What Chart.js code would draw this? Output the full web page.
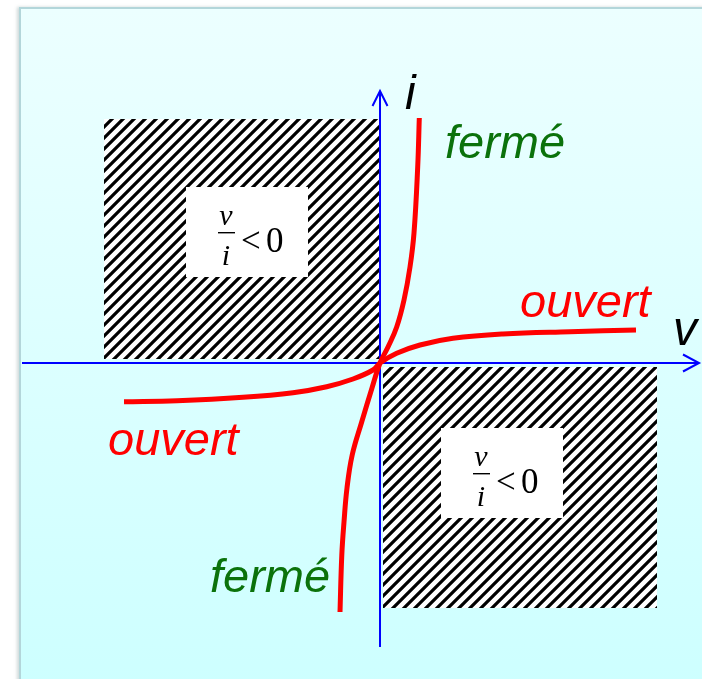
<!DOCTYPE html>
<html>
<head>
<meta charset="utf-8">
<script src="https://cdn.jsdelivr.net/npm/chart.js"></script>
<style>
    html, body { margin: 0; padding: 0; background: #fff; width: 702px; height: 679px; overflow: hidden; }
    #panel {
        position: absolute; left: 19px; top: 7px; width: 700px; height: 700px;
        background: linear-gradient(#ecffff, #ccffff);
        border-left: 2px solid #b3d6da; border-top: 2px solid #b3d6da;
        box-shadow: -2px 0 3px rgba(120, 150, 150, 0.35);
    }
    #chart { position: absolute; left: 0; top: 0; }
</style>
</head>
<body>
<div id="panel"></div>
<canvas id="chart" width="702" height="679"></canvas>
<script>
    // ─── DATA (1 unit = 10 px, origin at the axes crossing) ──
    // "fermé" branch: steep, read bottom to top
    const fermeV = [-4.0, -3.82, -3.6, -3.3, -2.78, -1.83, -0.8, 0, 0.8, 1.67, 2.4, 3.0, 3.4, 3.77, 3.93];
    const fermeI = [-24.9, -19.2, -15.9, -12.5, -9.2, -5.9, -2.5, 0, 1.6, 3.6, 6.3, 9.6, 13.0, 19.6, 24.5];
    // "ouvert" branch: flat, read left to right
    const ouvertV = [-25.6, -20.3, -13.7, -8.7, -5.33, -2.7, -0.7, 0, 1.67, 4.0, 7.3, 12.3, 19.0, 25.6];
    const ouvertI = [-3.87, -3.77, -3.43, -2.97, -2.37, -1.6, -0.7, 0, 0.97, 1.8, 2.47, 2.9, 3.13, 3.3];

    // hatched quadrants where v/i < 0 : [left, right, top, bottom]
    const zoneQ2 = [-27.6, -0.1, 24.4, 0.4];
    const zoneQ4 = [0.3, 27.7, -0.4, -24.5];
    // white boxes holding the formula
    const boxQ2 = [-19.4, -7.2, 17.6, 8.6];
    const boxQ4 = [6.1, 18.3, -6.5, -15.5];

    // axes
    const axisV = [-35.8, 31.9];
    const axisI = [-28.4, 27.2];

    // texts
    const curveLabels = ['fermé', 'ouvert', 'ouvert', 'fermé'];
    const curveLabelV = [6.5, 14.0, -27.2, -17.0];
    const curveLabelI = [20.5, 4.6, -9.2, -22.9];
    const curveLabelColors = ['#0b720b', '#ff0000', '#ff0000', '#0b720b'];
    const axisLabels = ['i', 'v'];
    const axisLabelV = [2.5, 29.3];
    const axisLabelI = [25.4, 1.8];

    // ─── HELPER: hatch pattern ──────────────────────────────
    function makeHatch() {
        const n = 11;
        const tile = document.createElement('canvas');
        tile.width = n;
        tile.height = n;
        const t = tile.getContext('2d');
        t.fillStyle = '#fff';
        t.fillRect(0, 0, n, n);
        t.strokeStyle = '#000';
        t.lineWidth = 3.2;
        t.beginPath();
        t.moveTo(-n / 2, n / 2); t.lineTo(n / 2, -n / 2);
        t.moveTo(0, n); t.lineTo(n, 0);
        t.moveTo(n / 2, n * 1.5); t.lineTo(n * 1.5, n / 2);
        t.stroke();
        return document.getElementById('chart').getContext('2d').createPattern(tile, 'repeat');
    }

    function rectSet(r, bg) {
        return {
            data: [{ x: r[0], y: r[2] }, { x: r[1], y: r[2] }],
            fill: { value: r[3] },
            backgroundColor: bg,
            borderColor: 'rgba(0,0,0,0)',
            borderWidth: 0,
            pointRadius: 0
        };
    }

    function lineSet(pts, color, width, smooth) {
        return {
            data: pts,
            borderColor: color,
            borderWidth: width,
            pointRadius: 0,
            fill: false,
            tension: smooth ? 0.4 : 0
        };
    }

    const zip = (xs, ys) => xs.map((x, k) => ({ x, y: ys[k] }));

    // ─── PLUGIN: texts and formulas ─────────────────────────
    const textPlugin = {
        id: 'texts',
        afterDatasetsDraw(chart) {
            const ctx = chart.ctx;
            const sx = chart.scales.x, sy = chart.scales.y;
            ctx.save();
            ctx.textBaseline = 'alphabetic';
            ctx.textAlign = 'left';

            ctx.font = 'italic 47px "Liberation Sans", Arial, sans-serif';
            curveLabels.forEach((txt, k) => {
                ctx.fillStyle = curveLabelColors[k];
                ctx.fillText(txt, sx.getPixelForValue(curveLabelV[k]), sy.getPixelForValue(curveLabelI[k]));
            });

            ctx.font = 'italic 48px "Liberation Sans", Arial, sans-serif';
            ctx.fillStyle = '#000';
            axisLabels.forEach((txt, k) => {
                ctx.fillText(txt, sx.getPixelForValue(axisLabelV[k]), sy.getPixelForValue(axisLabelI[k]));
            });

            [boxQ2, boxQ4].forEach(b => {
                const cx = (sx.getPixelForValue(b[0]) + sx.getPixelForValue(b[1])) / 2;
                const cy = (sy.getPixelForValue(b[2]) + sy.getPixelForValue(b[3])) / 2;
                ctx.fillStyle = '#000';
                ctx.textAlign = 'center';
                ctx.font = 'italic 30px "Liberation Serif", "Times New Roman", serif';
                ctx.fillText('v', cx - 21, cy - 7);
                ctx.fillText('i', cx - 21, cy + 33);
                ctx.fillRect(cx - 29, cy, 17, 1.4);
                ctx.textAlign = 'left';
                ctx.font = '35px "Liberation Serif", "Times New Roman", serif';
                ctx.fillText('<', cx - 6, cy + 20);
                ctx.fillText('0', cx + 19, cy + 20);
            });
            ctx.restore();
        }
    };

    // ─── RENDER ─────────────────────────────────────────────
    const hatch = makeHatch();
    const arrowUp = [{ x: -0.75, y: axisI[1] - 1.5 }, { x: 0, y: axisI[1] }, { x: 0.75, y: axisI[1] - 1.5 }];
    const arrowRight = [{ x: axisV[1] - 1.6, y: 0.85 }, { x: axisV[1], y: 0 }, { x: axisV[1] - 1.6, y: -0.85 }];

    new Chart(document.getElementById('chart'), {
        type: 'line',
        data: {
            datasets: [
                lineSet(zip(ouvertV, ouvertI), '#ff0000', 5, true),
                lineSet(zip(fermeV, fermeI), '#ff0000', 5, true),
                lineSet(arrowUp, '#0000ff', 2),
                lineSet(arrowRight, '#0000ff', 2),
                lineSet([{ x: 0, y: axisI[0] }, { x: 0, y: axisI[1] }], '#0000ff', 2),
                lineSet([{ x: axisV[0], y: 0 }, { x: axisV[1], y: 0 }], '#0000ff', 2),
                rectSet(boxQ2, '#ffffff'),
                rectSet(boxQ4, '#ffffff'),
                rectSet(zoneQ2, hatch),
                rectSet(zoneQ4, hatch)
            ]
        },
        options: {
            responsive: false,
            animation: false,
            layout: { padding: 0 },
            plugins: { legend: { display: false }, tooltip: { enabled: false } },
            scales: {
                x: { type: 'linear', min: -38, max: 32.2, display: false },
                y: { type: 'linear', min: -31.6, max: 36.3, display: false }
            }
        },
        plugins: [textPlugin]
    });
</script>
</body>
</html>
